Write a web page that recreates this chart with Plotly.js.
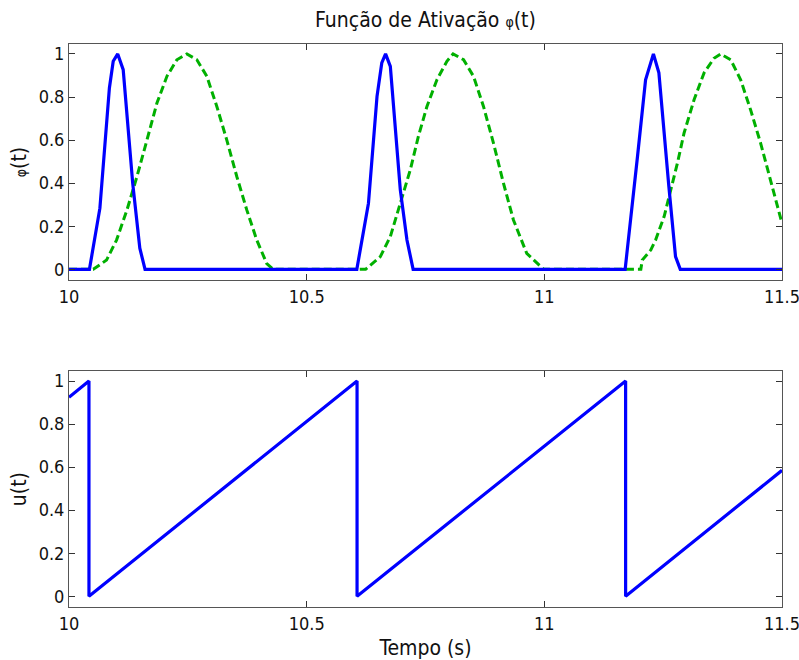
<!DOCTYPE html>
<html>
<head>
<meta charset="utf-8">
<script src="https://cdn.plot.ly/plotly-3.0.1.min.js"></script>
<style>html,body{margin:0;padding:0;background:#fff;}#chart{width:799px;height:660px;}</style>
</head>
<body>
<div id="chart"></div>
<script>
// Blue solid activation pulses phi(t)
const blueTime = [10, 10.043, 10.065, 10.085, 10.093, 10.1025, 10.114, 10.134, 10.149, 10.160,
  10.6055, 10.630, 10.648, 10.658, 10.666, 10.676, 10.697, 10.711, 10.724,
  11.170, 11.196, 11.213, 11.2295, 11.241, 11.262, 11.276, 11.286, 11.5];
const blueValue = [0, 0, 0.284, 0.842, 0.966, 1.0, 0.927, 0.40, 0.098, 0,
  0, 0.307, 0.803, 0.958, 1.0, 0.942, 0.369, 0.136, 0,
  0, 0.524, 0.88, 1.0, 0.912, 0.384, 0.059, 0, 0];

// Green dashed activation pulses phi(t)
const greenTime = [10, 10.051, 10.079, 10.100, 10.122, 10.143, 10.164, 10.185, 10.206, 10.227, 10.248,
  10.269, 10.290, 10.311, 10.332, 10.353, 10.374, 10.395, 10.416, 10.430,
  10.624, 10.655, 10.676, 10.697, 10.718, 10.735, 10.753, 10.774, 10.795, 10.808,
  10.830, 10.851, 10.872, 10.893, 10.914, 10.935, 10.963, 10.999,
  11.203, 11.206, 11.224, 11.234, 11.252, 11.266, 11.280, 11.294, 11.315, 11.336, 11.357, 11.371,
  11.392, 11.413, 11.434, 11.455, 11.476, 11.5];
const greenValue = [0, 0, 0.043, 0.136, 0.276, 0.431, 0.60, 0.772, 0.896, 0.973, 1.0,
  0.973, 0.896, 0.756, 0.60, 0.431, 0.276, 0.136, 0.027, 0,
  0, 0.059, 0.152, 0.307, 0.462, 0.617, 0.756, 0.88, 0.966, 1.0,
  0.973, 0.896, 0.756, 0.586, 0.40, 0.229, 0.074, 0,
  0, 0.043, 0.09, 0.136, 0.245, 0.369, 0.493, 0.633, 0.787, 0.912, 0.98, 1.0,
  0.973, 0.88, 0.74, 0.586, 0.415, 0.214];

// Sawtooth phase u(t)
const sawTime = [10, 10.042, 10.042, 10.606, 10.606, 11.171, 11.171, 11.5];
const sawValue = [0.925, 1, 0, 1, 0, 1, 0, 0.585];

const xTickVals = [10, 10.5, 11, 11.5];
const xTickText = ['10', '10.5', '11', '11.5'];
const yTickVals = [0, 0.2, 0.4, 0.6, 0.8, 1];
const yTickText = ['0', '0.2', '0.4', '0.6', '0.8', '1'];

const FONT = '"DejaVu Sans Condensed", "DejaVu Sans", sans-serif';

const traces = [
  {x: greenTime, y: greenValue, xaxis: 'x', yaxis: 'y', mode: 'lines',
   line: {color: '#00b000', width: 3, dash: '8px,4px'}, hoverinfo: 'skip'},
  {x: blueTime, y: blueValue, xaxis: 'x', yaxis: 'y', mode: 'lines',
   line: {color: '#0000ff', width: 3.2}, hoverinfo: 'skip'},
  {x: sawTime, y: sawValue, xaxis: 'x2', yaxis: 'y2', mode: 'lines',
   line: {color: '#0000ff', width: 3.2}, hoverinfo: 'skip'}
];

function xAxis(extra) {
  return Object.assign({
    range: [10, 11.5], tickvals: xTickVals, ticktext: xTickText,
    showline: true, mirror: 'allticks', linecolor: '#555', linewidth: 1,
    ticks: 'inside', ticklen: 6, tickcolor: '#333', showgrid: false, zeroline: false,
    ticklabeloverflow: 'allow',
    tickfont: {family: FONT, size: 18, color: '#111'}
  }, extra);
}
function yAxis(extra) {
  return Object.assign({
    range: [-0.05, 1.046], tickvals: yTickVals, ticktext: yTickText,
    showline: true, mirror: 'allticks', linecolor: '#555', linewidth: 1,
    ticks: 'inside', ticklen: 6, tickcolor: '#333', showgrid: false, zeroline: false,
    ticklabeloverflow: 'allow',
    tickfont: {family: FONT, size: 18, color: '#111'}
  }, extra);
}

const layout = {
  width: 799, height: 660,
  margin: {l: 69, r: 17, t: 44, b: 53},
  paper_bgcolor: '#fff', plot_bgcolor: '#fff',
  showlegend: false,
  title: {text: 'Função de Ativação <span style="font-size:14px">φ</span>(t)',
          x: 0.5, xanchor: 'center', xref: 'paper', y: 1 - 20 / 660, yanchor: 'middle',
          font: {family: FONT, size: 21, color: '#111'}},
  xaxis: xAxis({domain: [0, 1], anchor: 'y'}),
  yaxis: yAxis({domain: [0.5806, 1], anchor: 'x',
    title: {text: '<span style="font-size:14px">φ</span>(t)', font: {family: FONT, size: 21, color: '#111'}, standoff: 6}}),
  xaxis2: xAxis({domain: [0, 1], anchor: 'y2',
    title: {text: 'Tempo (s)', font: {family: FONT, size: 21, color: '#111'}, standoff: 8}}),
  yaxis2: yAxis({domain: [0, 0.4189], anchor: 'x2',
    title: {text: 'u(t)', font: {family: FONT, size: 21, color: '#111'}, standoff: 6}})
};

Plotly.newPlot('chart', traces, layout, {displayModeBar: false, staticPlot: true});
</script>
</body>
</html>
